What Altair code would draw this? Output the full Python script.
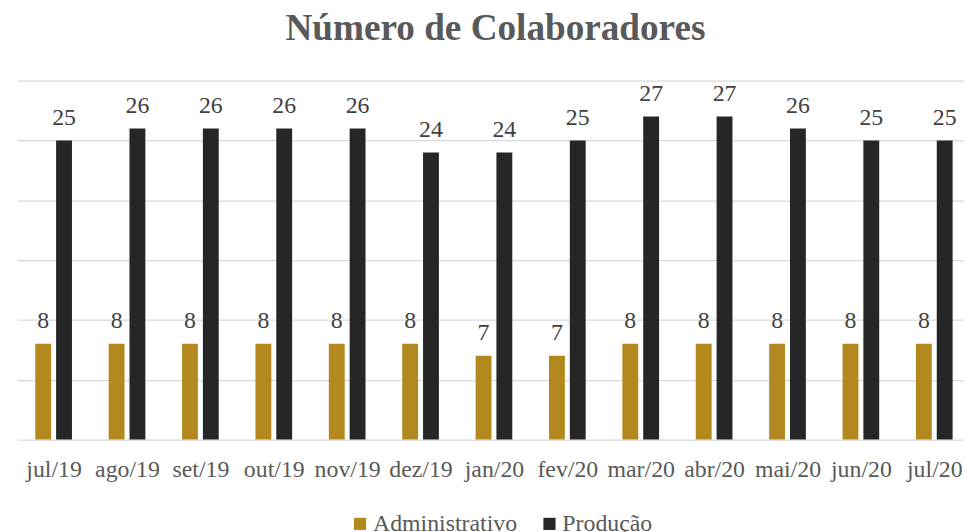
import altair as alt
import pandas as pd

months = ["jul/19", "ago/19", "set/19", "out/19", "nov/19", "dez/19", "jan/20",
          "fev/20", "mar/20", "abr/20", "mai/20", "jun/20", "jul/20"]
administrativo = [8, 8, 8, 8, 8, 8, 7, 7, 8, 8, 8, 8, 8]
producao = [25, 26, 26, 26, 26, 24, 24, 25, 27, 27, 26, 25, 25]
series = ["Administrativo", "Produção"]
colors = ["#B3891F", "#262626"]

rows = []
for i, (m, a, p) in enumerate(zip(months, administrativo, producao)):
    rows.append({"idx": i, "mes": m, "serie": series[0], "valor": a})
    rows.append({"idx": i, "mes": m, "serie": series[1], "valor": p})
df = pd.DataFrame(rows)

FONT = "Liberation Serif"
label_expr = "[" + ",".join("'%s'" % m for m in months) + "][datum.value]"

x_enc = alt.X(
    "idx:Q", title=None,
    scale=alt.Scale(domain=[-0.5, 12.405], nice=False, zero=False, padding=0),
    axis=alt.Axis(values=list(range(len(months))), labelExpr=label_expr,
                  labelFont=FONT, labelFontSize=24, labelColor="#595959",
                  labelAngle=0, domain=False, ticks=False, tickSize=0,
                  labelPadding=37, labelBaseline="alphabetic", grid=False,
                  labelFlush=False, labelOverlap=False),
)
y_enc = alt.Y("valor:Q", title=None,
              scale=alt.Scale(domain=[0, 30], nice=False, padding=0),
              axis=alt.Axis(values=[0, 5, 10, 15, 20, 25, 30], labels=False,
                            ticks=False, domain=False, gridColor="#D9D9D9",
                            gridWidth=1.2))
color_enc = alt.Color("serie:N", sort=series,
                      scale=alt.Scale(domain=series, range=colors),
                      legend=alt.Legend(title=None, orient="none",
                                        legendX=334, legendY=435,
                                        direction="horizontal",
                                        symbolType="square", symbolSize=150,
                                        symbolStrokeWidth=0,
                                        labelFont=FONT, labelFontSize=24,
                                        labelColor="#595959", labelOffset=1,
                                        columnPadding=20, padding=0))

base = alt.Chart(df)
layers = []
for s, off in zip(series, [-10.5, 10.5]):
    sub = base.transform_filter(alt.datum.serie == s)
    layers.append(sub.mark_bar(width=16, xOffset=off).encode(
        x=x_enc, y=y_enc, color=color_enc))
    layers.append(sub.mark_text(
        font=FONT, fontSize=24, color="#404040", baseline="alphabetic",
        dy=-16, dx=off).encode(x=x_enc, y=y_enc, text="valor:Q"))

chart = alt.layer(*layers).properties(
    width=955, height=362,
    autosize=alt.AutoSizeParams(type="none"),
    padding={"left": 9, "top": 71, "right": 0, "bottom": 91},
    title=alt.TitleParams("Número de Colaboradores", font=FONT, fontSize=37.5,
                          fontWeight="bold", color="#595959", anchor="middle",
                          offset=33, dx=5),
).configure_view(stroke=None).configure_text(font=FONT)

chart.save("out.html", embed_options={"renderer": "svg", "actions": False})
